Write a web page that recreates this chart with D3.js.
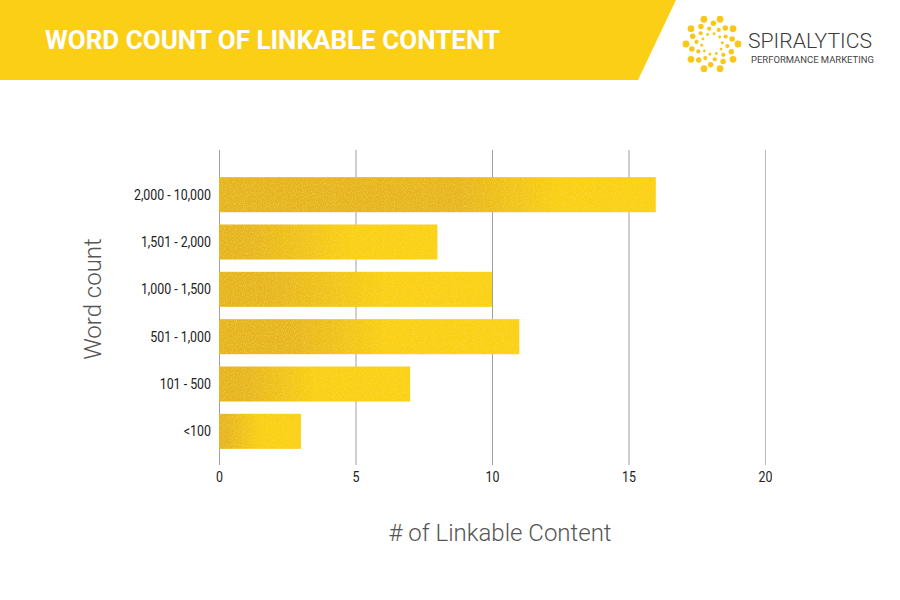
<!DOCTYPE html>
<html><head><meta charset="utf-8">
<script src="https://cdn.jsdelivr.net/npm/d3@7"></script>
<style>body{margin:0;background:#fff}svg{display:block}</style>
</head><body><svg id="c" width="900" height="600"></svg>
<script>
const categories = ["2,000 - 10,000","1,501 - 2,000","1,000 - 1,500","501 - 1,000","101 - 500","<100"];
const values = [16, 8, 10, 11, 7, 3];
const xTicks = [0, 5, 10, 15, 20];
const title = "WORD COUNT OF LINKABLE CONTENT";
const xTitle = "# of Linkable Content";
const yTitle = "Word count";

const svg = d3.select("#c");
const defs = svg.append("defs");

// header banner
svg.append("path").attr("d","M0,0 L676,0 L638,80 L0,80 Z").attr("fill","#FACF16");
svg.append("text").attr("x",45).attr("y",49).text(title)
  .attr("fill","#fff").attr("font-family","Roboto").attr("font-weight","bold")
  .attr("font-size",25).attr("textLength",455).attr("lengthAdjust","spacingAndGlyphs");

// logo
const logo = svg.append("g").attr("transform","translate(712,44)");
const dots = [];
for (let arm = 0; arm < 10; arm++) {
  for (let k = 0; k < 4; k++) {
    const r = 26 - k * 5.2;
    const a = arm * (2*Math.PI/10) + k * 0.38;
    dots.push({x: r*Math.cos(a), y: r*Math.sin(a), s: 3.4 - k*0.65});
  }
}
logo.selectAll("circle").data(dots).join("circle")
  .attr("cx",d=>d.x).attr("cy",d=>d.y).attr("r",d=>d.s).attr("fill","#F7C81A");
svg.append("text").attr("x",748).attr("y",47.5).text("SPIRALYTICS")
  .attr("font-family","Roboto").attr("font-weight",300).attr("font-size",20)
  .attr("fill","#3a3a3a").attr("textLength",124).attr("lengthAdjust","spacingAndGlyphs");
svg.append("text").attr("x",751).attr("y",62.5).text("PERFORMANCE MARKETING")
  .attr("font-family","Roboto").attr("font-size",8.3).attr("fill","#444")
  .attr("textLength",123).attr("lengthAdjust","spacingAndGlyphs");

// scales
const x = d3.scaleLinear().domain([0,20]).range([219,765]);
const y = d3.scaleBand().domain(categories).range([171,455]).paddingInner(0.26).paddingOuter(0.13);

// grid lines
svg.append("g").selectAll("line").data(xTicks).join("line")
  .attr("x1",d=>x(d)+0.5).attr("x2",d=>x(d)+0.5).attr("y1",150).attr("y2",465)
  .attr("stroke",d=>d===20?"#bdbdbd":"#a0a0a0").attr("stroke-width",1);

// bar gradients
const stops = [[0.55,0.78],[0.15,0.6],[0.2,0.6],[0.25,0.55],[0.15,0.5],[0.1,0.5]];
values.forEach((v,i)=>{
  const g = defs.append("linearGradient").attr("id","g"+i).attr("x1","0").attr("x2","1").attr("y1","0").attr("y2","0");
  g.append("stop").attr("offset",0).attr("stop-color","#E5B323");
  g.append("stop").attr("offset",stops[i][0]).attr("stop-color","#E7B522");
  g.append("stop").attr("offset",stops[i][1]).attr("stop-color","#FACF16");
  g.append("stop").attr("offset",1).attr("stop-color","#FBD016");
});
const f = defs.append("filter").attr("id","noise").attr("x",0).attr("y",0).attr("width",1).attr("height",1);
f.append("feTurbulence").attr("type","fractalNoise").attr("baseFrequency",0.9).attr("numOctaves",1).attr("result","t");
f.append("feColorMatrix").attr("in","t").attr("type","matrix")
  .attr("values","0 0 0 0 0.98  0 0 0 0 0.82  0 0 0 0 0.1  0 0 0 1.2 -0.55").attr("result","n");
f.append("feComposite").attr("in","n").attr("in2","SourceGraphic").attr("operator","in").attr("result","n2");
f.append("feMerge").call(m=>{m.append("feMergeNode").attr("in","SourceGraphic");m.append("feMergeNode").attr("in","n2");});

svg.append("g").selectAll("rect").data(values).join("rect")
  .attr("x",x(0)).attr("y",(d,i)=>y(categories[i]))
  .attr("width",d=>x(d)-x(0)).attr("height",y.bandwidth())
  .attr("fill",(d,i)=>`url(#g${i})`).attr("filter","url(#noise)");

// y axis labels
const yAxis = svg.append("g").attr("transform","translate(219,0)")
  .call(d3.axisLeft(y).tickSize(0).tickPadding(8));
yAxis.select(".domain").remove();
yAxis.selectAll("text").attr("font-family","Roboto").attr("font-size",15.5)
  .attr("fill","#222").attr("transform","scale(0.8,1)").attr("x",-8/0.8);

// x axis labels
const xAxis = svg.append("g").attr("transform","translate(0,469)")
  .call(d3.axisBottom(x).tickValues(xTicks).tickSize(0).tickPadding(2));
xAxis.select(".domain").remove();
xAxis.selectAll("text").attr("font-family","Roboto").attr("font-size",15.5).attr("fill","#222")
  .attr("transform","scale(0.8,1)");

// titles
svg.append("text").attr("x",500).attr("y",541).attr("text-anchor","middle").text(xTitle)
  .attr("font-family","Roboto").attr("font-weight",300).attr("font-size",24).attr("fill","#555");
svg.append("text").attr("transform","translate(101,299) rotate(-90)").attr("text-anchor","middle").text(yTitle)
  .attr("font-family","Roboto").attr("font-weight",300).attr("font-size",24).attr("fill","#555");
</script></body></html>
